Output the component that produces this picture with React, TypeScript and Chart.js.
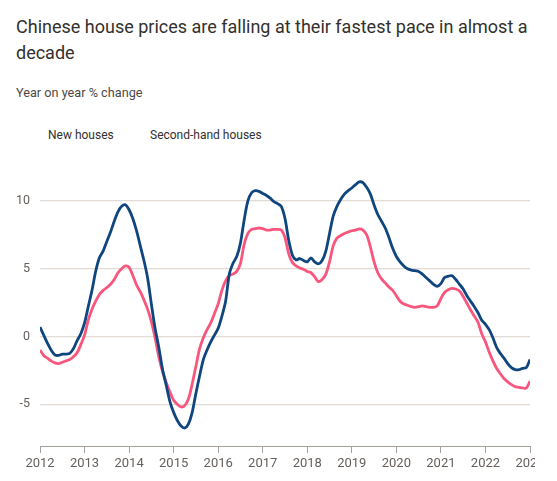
import React, { useEffect, useRef } from "react";
import { Chart, registerables } from "chart.js";

Chart.register(...registerables);

// Monthly series, Jan 2012 .. Jan 2023 (year-on-year % change)
const startYear = 2012;
const seriesNames = ["New houses", "Second-hand houses"];

const newHouses = [
  // 2012
  0.7, 0.1, -0.5, -1.0, -1.35, -1.4, -1.3, -1.3, -1.25, -0.9, -0.3, 0.2,
  // 2013
  1.0, 2.2, 3.4, 4.8, 5.8, 6.3, 7.0, 7.7, 8.5, 9.2, 9.6, 9.72,
  // 2014
  9.35, 8.7, 7.8, 6.7, 5.6, 4.3, 2.4, 0.6, -0.8, -2.4, -3.6, -4.8,
  // 2015
  -5.6, -6.2, -6.6, -6.75, -6.45, -5.6, -4.2, -2.9, -1.7, -1.0, -0.4, 0.1,
  // 2016
  0.6, 1.5, 2.6, 4.6, 5.4, 5.9, 6.9, 8.6, 10.0, 10.6, 10.75, 10.7,
  // 2017
  10.55, 10.4, 10.2, 9.95, 9.8, 9.6, 8.7, 7.1, 6.0, 5.65, 5.75, 5.6,
  // 2018
  5.5, 5.8, 5.5, 5.35, 5.6, 6.3, 7.6, 8.9, 9.6, 10.1, 10.5, 10.75,
  // 2019
  10.95, 11.2, 11.4, 11.35, 11.0, 10.5, 9.7, 9.0, 8.5, 8.0, 7.3, 6.5,
  // 2020
  5.9, 5.5, 5.2, 5.0, 4.9, 4.85, 4.8, 4.6, 4.35, 4.1, 3.85, 3.7,
  // 2021
  3.9, 4.35, 4.45, 4.48, 4.2, 3.85, 3.5, 3.0, 2.6, 2.2, 1.75, 1.2,
  // 2022
  0.9, 0.5, -0.1, -0.8, -1.25, -1.6, -2.0, -2.3, -2.45, -2.45, -2.35, -2.3,
  // 2023
  -1.7,
];

const secondHand = [
  // 2012
  -1.0, -1.4, -1.6, -1.8, -1.95, -2.0, -1.9, -1.8, -1.7, -1.5, -1.2, -0.6,
  // 2013
  0.1, 1.2, 2.0, 2.6, 3.1, 3.4, 3.6, 3.85, 4.2, 4.7, 5.0, 5.2,
  // 2014
  5.1, 4.5, 3.8, 3.3, 2.7, 2.0, 1.1, -0.1, -1.5, -2.6, -3.4, -4.1,
  // 2015
  -4.7, -5.0, -5.2, -5.1, -4.6, -3.5, -2.2, -0.9, -0.1, 0.5, 1.0, 1.7,
  // 2016
  2.4, 3.4, 4.1, 4.5, 4.6, 4.8, 5.4, 6.8, 7.6, 7.9, 7.95, 8.0,
  // 2017
  7.95, 7.85, 7.85, 7.9, 7.9, 7.85, 7.3, 6.1, 5.45, 5.2, 5.05, 4.95,
  // 2018
  4.8, 4.7, 4.4, 4.05, 4.2, 4.6, 5.5, 6.7, 7.25, 7.45, 7.6, 7.7,
  // 2019
  7.8, 7.85, 7.93, 7.85, 7.5, 6.6, 5.5, 4.7, 4.25, 3.95, 3.65, 3.4,
  // 2020
  3.0, 2.6, 2.4, 2.3, 2.2, 2.15, 2.2, 2.25, 2.2, 2.15, 2.15, 2.25,
  // 2021
  2.8, 3.25, 3.45, 3.55, 3.5, 3.35, 2.95, 2.45, 1.95, 1.5, 1.05, 0.2,
  // 2022
  -0.4, -1.15, -1.8, -2.35, -2.75, -3.1, -3.35, -3.55, -3.7, -3.75, -3.8, -3.8,
  // 2023
  -3.3,
];

const xTickYears = [2012, 2013, 2014, 2015, 2016, 2017, 2018, 2019, 2020, 2021, 2022, 2023];
const yTickValues = [-5, 0, 5, 10];

const BLUE = "#10467f";
const PINK = "#f8567d";
const GRID = "#e2dbd4";
const AXIS = "#a8a29d";
const LABEL = "#66605c";
const TEXT = "#33302e";
const FONT = "Roboto, 'Noto Sans', sans-serif";

export default function App() {
  const canvasRef = useRef<HTMLCanvasElement | null>(null);

  useEffect(() => {
    const canvas = canvasRef.current;
    if (!canvas) return;
    const toPoints = (arr: number[]) =>
      arr.map((v, i) => ({ x: startYear + i / 12, y: v }));

    const chart = new Chart(canvas, {
      type: "line",
      data: {
        datasets: [
          {
            label: seriesNames[0],
            data: toPoints(newHouses),
            borderColor: BLUE,
            borderWidth: 2.8,
            pointRadius: 0,
            tension: 0.3,
            fill: false,
          },
          {
            label: seriesNames[1],
            data: toPoints(secondHand),
            borderColor: PINK,
            borderWidth: 2.8,
            pointRadius: 0,
            tension: 0.3,
            fill: false,
          },
        ],
      },
      options: {
        animation: false,
        responsive: false,
        maintainAspectRatio: false,
        layout: { padding: { left: 0, top: 170, right: 27, bottom: 0 } },
        plugins: {
          legend: { display: false },
          tooltip: { enabled: false },
          title: { display: false },
        },
        scales: {
          x: {
            type: "linear",
            min: 2012,
            max: 2023,
            afterBuildTicks: (scale: any) => {
              scale.ticks = xTickYears.map((v) => ({ value: v }));
            },
            afterFit: (scale: any) => {
              scale.height = 35;
            },
            ticks: {
              callback: (v: any) => String(v),
              color: LABEL,
              font: { family: FONT, size: 13 },
              padding: 3,
              maxRotation: 0,
              autoSkip: false,
            },
            grid: {
              drawOnChartArea: false,
              drawTicks: true,
              tickLength: 7,
              color: AXIS,
              lineWidth: 1,
            },
            border: { display: true, color: AXIS, width: 1 },
          },
          y: {
            type: "linear",
            min: -8.08,
            max: 12.28,
            afterBuildTicks: (scale: any) => {
              scale.ticks = yTickValues.map((v) => ({ value: v }));
            },
            afterFit: (scale: any) => {
              scale.width = 40;
            },
            ticks: {
              color: LABEL,
              font: { family: FONT, size: 12.5 },
              padding: 10,
            },
            grid: { color: GRID, lineWidth: 1.2, drawTicks: false },
            border: { display: false },
          },
        },
      },
    });
    return () => chart.destroy();
  }, []);

  return (
    <div
      style={{
        position: "absolute",
        left: 0,
        top: 0,
        width: 557,
        height: 481,
        background: "#fff",
        fontFamily: FONT,
      }}
    >
      <div
        style={{
          position: "absolute",
          left: 16,
          top: 14,
          fontSize: 18,
          lineHeight: "26px",
          color: TEXT,
          whiteSpace: "nowrap",
        }}
      >
        Chinese house prices are falling at their fastest pace in almost a
        <br />
        decade
      </div>
      <div
        style={{
          position: "absolute",
          left: 16,
          top: 85,
          fontSize: 12.7,
          lineHeight: "16px",
          color: "#4d4845",
          whiteSpace: "nowrap",
        }}
      >
        Year on year % change
      </div>
      <div
        style={{
          position: "absolute",
          left: 48,
          top: 127,
          fontSize: 12,
          lineHeight: "16px",
          color: TEXT,
          whiteSpace: "nowrap",
        }}
      >
        {seriesNames[0]}
      </div>
      <div
        style={{
          position: "absolute",
          left: 150,
          top: 127,
          fontSize: 12,
          lineHeight: "16px",
          color: TEXT,
          whiteSpace: "nowrap",
        }}
      >
        {seriesNames[1]}
      </div>
      <div
        style={{
          position: "absolute",
          left: 0,
          top: 0,
          width: 535,
          height: 481,
          overflow: "hidden",
        }}
      >
        <canvas ref={canvasRef} width={557} height={481} style={{ display: "block" }} />
      </div>
    </div>
  );
}
